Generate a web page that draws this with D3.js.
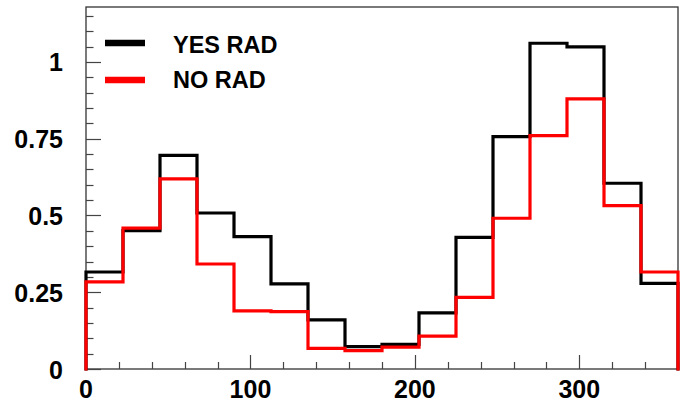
<!DOCTYPE html>
<html>
<head>
<meta charset="utf-8">
<script src="https://cdn.jsdelivr.net/npm/d3@7"></script>
<style>
html,body{margin:0;padding:0;background:#fff;}
svg{display:block;}
text{font-family:"Liberation Sans",Arial,Helvetica,sans-serif;font-weight:bold;fill:#000;}
</style>
</head>
<body>
<svg id="chart" width="680" height="404"></svg>
<script>
const binEdges = [0,22.5,45,67.5,90,112.5,135,157.5,180,202.5,225,247.5,270,292.5,315,337.5,360];
const yesRad = [0.316,0.451,0.696,0.508,0.431,0.277,0.160,0.073,0.080,0.183,0.429,0.757,1.061,1.049,0.605,0.279];
const noRad  = [0.284,0.459,0.619,0.342,0.189,0.187,0.067,0.060,0.071,0.107,0.233,0.491,0.760,0.880,0.532,0.316];
const seriesNames = ["YES RAD","NO RAD"];
const seriesColors = ["#000000","#ff0000"];
const xTickLabels = [0,100,200,300];
const yTickLabels = [0,0.25,0.5,0.75,1];

const svg = d3.select("#chart");
const L = 86, R = 678, T = 7, B = 369;
const x = d3.scaleLinear().domain([0,360]).range([L,R]);
const y = d3.scaleLinear().domain([0,1.179]).range([B,T]);

// frame
svg.append("rect").attr("x",L).attr("y",T).attr("width",R-L).attr("height",B-T)
  .attr("fill","none").attr("stroke","#333").attr("stroke-width",1.3);

// y ticks
const yMinor = d3.range(0,1.1751,0.05);
svg.append("g").selectAll("line").data(yMinor).join("line")
  .attr("x1",L).attr("x2",d => (Math.abs(d/0.25 - Math.round(d/0.25))<1e-6) ? L+15 : L+7.5)
  .attr("y1",d=>Math.round(y(d))+0.5).attr("y2",d=>Math.round(y(d))+0.5)
  .attr("stroke","#444").attr("stroke-width",1.2);
svg.append("g").selectAll("text").data(yTickLabels).join("text")
  .attr("x",63).attr("y",d=>y(d)+9.5).attr("text-anchor","end")
  .attr("font-size",25).text(d=>d3.format("~g")(d));

// x ticks
const xMinor = d3.range(0,361,20);
svg.append("g").selectAll("line").data(xMinor).join("line")
  .attr("x1",d=>Math.round(x(d))+0.5).attr("x2",d=>Math.round(x(d))+0.5)
  .attr("y1",B).attr("y2",d => d%100===0 ? B-14 : B-7)
  .attr("stroke","#444").attr("stroke-width",1.2);
svg.append("g").selectAll("text").data(xTickLabels).join("text")
  .attr("x",d=>x(d)).attr("y",398).attr("text-anchor","middle")
  .attr("font-size",25).text(d=>d);

// histograms
function stepPath(vals){
  const p = d3.path();
  p.moveTo(x(binEdges[0]), y(0));
  vals.forEach((v,i)=>{
    p.lineTo(x(binEdges[i]), y(v));
    p.lineTo(x(binEdges[i+1]), y(v));
  });
  p.lineTo(x(binEdges[binEdges.length-1]), y(0));
  return p.toString();
}
[yesRad,noRad].forEach((vals,i)=>{
  svg.append("path").attr("d",stepPath(vals)).attr("fill","none")
    .attr("stroke",seriesColors[i]).attr("stroke-width",3.2)
    .attr("stroke-linejoin","miter").attr("stroke-linecap","square");
});

// legend
const legY = [43,80], legTextY = [53,88];
seriesNames.forEach((n,i)=>{
  svg.append("line").attr("x1",105).attr("x2",145).attr("y1",legY[i]).attr("y2",legY[i])
    .attr("stroke",seriesColors[i]).attr("stroke-width",6.5);
  svg.append("text").attr("x",173).attr("y",legTextY[i]).attr("font-size",23.5).text(n);
});
</script>
</body>
</html>
